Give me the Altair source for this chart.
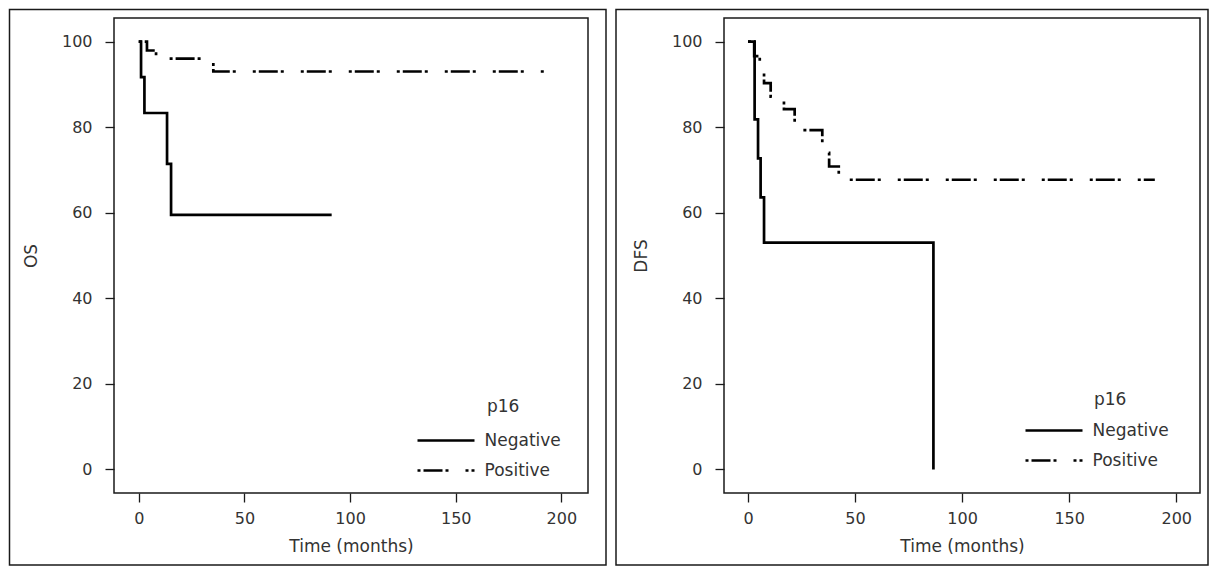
import altair as alt
import pandas as pd

# ---- data (Kaplan-Meier steps, %) ----
groups = ["Negative", "Positive"]
legend_title = "p16"

os_neg_time = [0, 1.1, 2.7, 13.4, 15.3, 91.3]
os_neg_surv = [100, 91.7, 83.3, 71.4, 59.5, 59.5]
os_pos_time = [0, 3.9, 8.2, 35.3, 192]
os_pos_surv = [100, 97.9, 96.0, 93.0, 93.0]

dfs_neg_time = [0, 3.1, 4.7, 5.9, 7.5, 86.6]
dfs_neg_surv = [100, 81.8, 72.7, 63.6, 53.0, 0]
dfs_pos_time = [0, 2.9, 5.5, 7.5, 10.6, 16.8, 21.8, 26.5, 34.7, 37.9, 42.4, 190]
dfs_pos_surv = [100, 96.6, 93.5, 90.3, 87.1, 84.2, 81.2, 79.3, 74.0, 70.8, 67.7, 67.7]

x_ticks = [0, 50, 100, 150, 200]
y_ticks = [0, 20, 40, 60, 80, 100]

FONT = "DejaVu Sans"
TEXT = "#333333"
INK = "#1a1a1a"


def km_frame(nt, ns, pt, ps):
    rows = [{"time": t, "surv": s, "p16": groups[0]} for t, s in zip(nt, ns)]
    rows += [{"time": t, "surv": s, "p16": groups[1]} for t, s in zip(pt, ps)]
    return pd.DataFrame(rows)


dash_scale = alt.Scale(domain=groups, range=[[1, 0], [3, 3, 19, 3, 3, 17]])


def panel(df, ytitle, xdom, width, legx, legy, tx, ty, frame_left, frame_right):
    lines = alt.Chart(df).mark_line(
        interpolate="step-after", color="black", strokeWidth=2.7
    ).encode(
        x=alt.X("time:Q", scale=alt.Scale(domain=xdom, nice=False, zero=False),
                axis=alt.Axis(values=x_ticks, title="Time (months)")),
        y=alt.Y("surv:Q", scale=alt.Scale(domain=[-5.5, 105.5], nice=False, zero=False),
                axis=alt.Axis(values=y_ticks, title=ytitle)),
        strokeDash=alt.StrokeDash(
            "p16:N", scale=dash_scale,
            legend=alt.Legend(
                title=None, orient="none", legendX=legx, legendY=legy,
                direction="vertical", symbolType="M-1.9,0H1.9", symbolSize=900,
                symbolStrokeWidth=2.7, symbolStrokeColor="black",
                symbolOffset=11.5, labelOffset=22, padding=0, rowPadding=5,
                labelFont=FONT, labelFontSize=17, labelColor=TEXT,
            ),
        ),
    )
    title = alt.Chart(pd.DataFrame({"t": [legend_title]})).mark_text(
        align="left", baseline="middle", font=FONT, fontSize=17, color=TEXT
    ).encode(text="t:N", x=alt.value(tx), y=alt.value(ty))
    frame = alt.Chart(pd.DataFrame({"k": [0]})).mark_rect(
        fillOpacity=0, stroke=INK, strokeWidth=1.5, clip=False
    ).encode(
        x=alt.value(frame_left), x2=alt.value(frame_right),
        y=alt.value(-8.5), y2=alt.value(547),
    )
    return alt.layer(lines, title, frame).properties(width=width, height=475)


left = panel(km_frame(os_neg_time, os_neg_surv, os_pos_time, os_pos_surv),
             "OS", [-11.7, 212.6], 474, 304, 406, 373, 389, -104.5, 492)
right = panel(km_frame(dfs_neg_time, dfs_neg_surv, dfs_pos_time, dfs_pos_surv),
              "DFS", [-11.2, 211.1], 476, 302, 396, 370, 382, -108, 484)

chart = alt.hconcat(left, right, spacing=136, bounds="flush").resolve_scale(
    strokeDash="independent", x="independent", y="independent"
).resolve_legend(strokeDash="independent").properties(
    padding=0, background="white"
).configure_view(
    stroke=INK, strokeWidth=1.5
).configure_axis(
    domain=False, grid=False, ticks=True, tickSize=9, tickWidth=1.3, tickColor=INK,
    labelFont=FONT, labelFontSize=16, labelColor=TEXT,
    titleFont=FONT, titleFontSize=17, titleFontWeight="normal", titleColor=TEXT,
).configure_axisX(
    labelPadding=8, titlePadding=12
).configure_axisY(
    labelPadding=13, titlePadding=21
)

chart.save("out.html", embed_options={"renderer": "svg", "actions": False})
